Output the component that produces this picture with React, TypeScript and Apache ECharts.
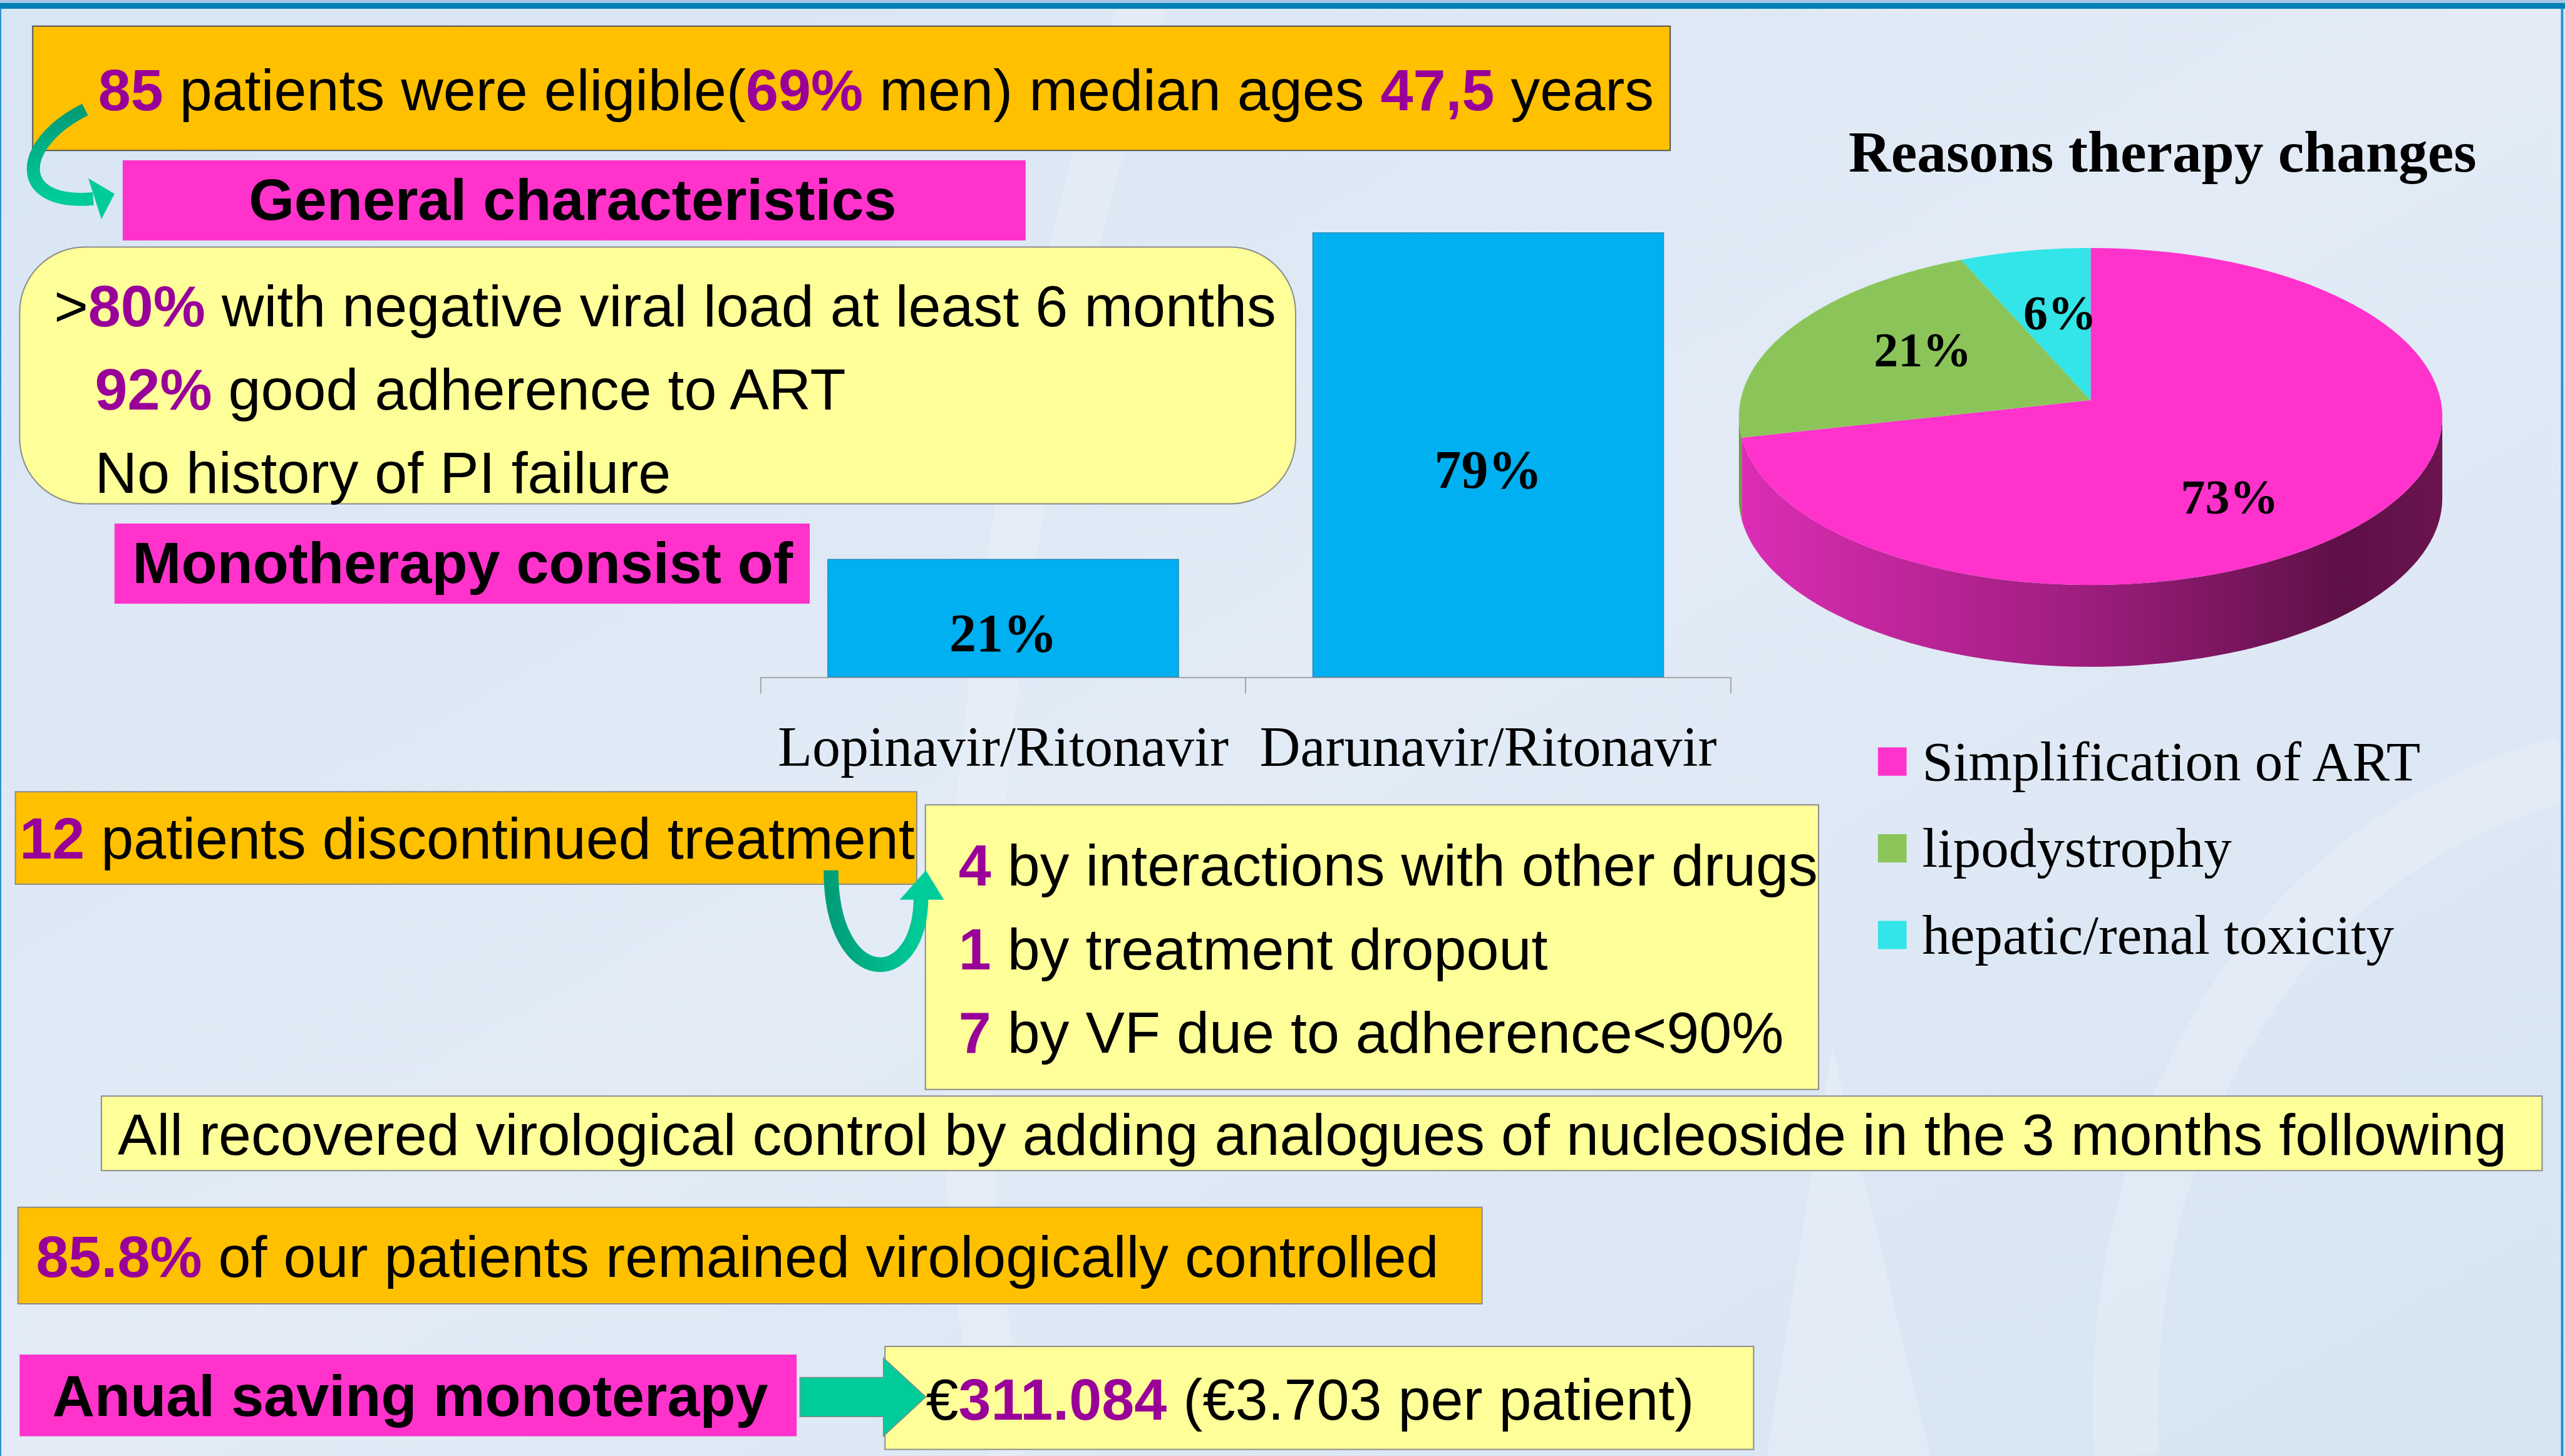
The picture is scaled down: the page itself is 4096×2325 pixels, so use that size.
import React, { useEffect, useRef } from 'react';
import * as echarts from 'echarts';

// ---------- data ----------
const drugCategories = ['Lopinavir/Ritonavir', 'Darunavir/Ritonavir'];
const drugShares = [21, 79];

const reasonNames = ['Simplification of ART', 'lipodystrophy', 'hepatic/renal toxicity'];
const reasonShares = [73, 21, 6];

const eligibleFacts = ['85', '69%', '47,5'];
const characteristicFacts = ['80%', '92%'];
const discontinuedCount = ['12'];
const discontinuedReasons = ['4', '1', '7'];
const controlledShare = ['85.8%'];
const savingFacts = ['311.084', '3.703'];

// ---------- styles ----------
const W = 4096;
const H = 2325;
const K = W / 1568;
const s = (v: number) => v * K;
const SANS = '"Liberation Sans", Arial, sans-serif';
const SERIF = '"Liberation Serif", "Times New Roman", serif';
const FS = 93.5;
const PURPLE = '#990099';
const ORANGE = '#FFC000';
const PINK = '#FF33CC';
const YELLOW = '#FFFF99';
const BLUE_BAR = '#00B0F0';
const reasonColors = ['#FF33CC', '#8BC55A', '#33E5E8'];
const reasonSideStops = [
  ['#DC2DB5', '#9C1D7C', '#5E1046', '#6A1450'],
  ['#6E9E40', '#5A8534', '#4A6E2A', '#527A2E'],
  ['#22B8BA', '#1C9A9C', '#157A7C', '#188486'],
];

const rich = {
  p: { fill: PURPLE, fontWeight: 'bold', fontSize: FS, fontFamily: SANS },
};

function txt(x: number, y: number, text: string, opts: any = {}) {
  const align = opts.align || 'left';
  return {
    type: 'text',
    x,
    y,
    z: opts.z ?? 10,
    style: {
      text,
      fill: opts.fill || '#000',
      fontSize: opts.fontSize || FS,
      fontFamily: opts.fontFamily || SANS,
      fontWeight: opts.fontWeight || 'normal',
      align,
      verticalAlign: 'middle',
      textAlign: align,
      textVerticalAlign: 'middle',
      rich,
    },
  };
}

function box(x: number, y: number, w: number, h: number, fill: string, stroke?: string, r = 0) {
  return {
    type: 'rect',
    z: 2,
    shape: { x: s(x), y: s(y), width: s(w), height: s(h), r: s(r) },
    style: { fill, stroke: stroke || 'none', lineWidth: stroke ? 2 : 0 },
  };
}

// ---------- 3D pie (custom series) ----------
const reasonTotal = reasonShares.reduce((a, b) => a + b, 0);
const reasonStarts: number[] = [];
{
  let acc = 0;
  for (const v of reasonShares) {
    reasonStarts.push((acc / reasonTotal) * 360);
    acc += v;
  }
}

function renderPie(params: any, api: any) {
  const i = params.dataIndex;
  const v = api.value(0);
  const frac = v / reasonTotal;
  const a1 = reasonStarts[i];
  const a2 = a1 + frac * 360;
  const cx = s(1278);
  const cy = s(254.6);
  const rx = s(215);
  const ry = s(103);
  const depth = s(50);
  const apexY = cy - s(10);
  const pt = (deg: number, dy = 0) => {
    const r = (deg * Math.PI) / 180;
    return [cx + rx * Math.sin(r), cy - ry * Math.cos(r) + dy];
  };
  const children: any[] = [];
  const vs = Math.max(a1, 90);
  const ve = Math.min(a2, 270);
  if (ve > vs) {
    const top: number[][] = [];
    const bot: number[][] = [];
    const n = 80;
    for (let k = 0; k <= n; k++) {
      const d = vs + ((ve - vs) * k) / n;
      top.push(pt(d));
      bot.push(pt(d, depth));
    }
    const st = reasonSideStops[i];
    children.push({
      type: 'polygon',
      shape: { points: top.concat(bot.reverse()) },
      style: {
        fill: new echarts.graphic.LinearGradient(
          cx - rx, 0, cx + rx, 0,
          [
            { offset: 0, color: st[0] },
            { offset: 0.5, color: st[1] },
            { offset: 0.86, color: st[2] },
            { offset: 1, color: st[3] },
          ],
          true
        ),
      },
    });
  }
  const pts: number[][] = [[cx, apexY]];
  const n = 120;
  for (let k = 0; k <= n; k++) pts.push(pt(a1 + ((a2 - a1) * k) / n));
  children.push({
    type: 'polygon',
    z2: 5,
    shape: { points: pts },
    style: { fill: reasonColors[i] },
  });
  const shift = 9 * Math.min(1, frac / 0.2);
  const mid = ((a1 + a2) / 2 + shift) * (Math.PI / 180);
  const lr = 0.62;
  children.push({
    type: 'text',
    z2: 10,
    x: cx + rx * lr * Math.sin(mid),
    y: cy - ry * lr * Math.cos(mid),
    style: {
      text: v + '%',
      fill: '#000',
      fontSize: 78,
      fontFamily: SERIF,
      fontWeight: 'bold',
      align: 'center',
      verticalAlign: 'middle',
      textAlign: 'center',
      textVerticalAlign: 'middle',
    },
  });
  return { type: 'group', children };
}

export default function App() {
  const ref = useRef<HTMLDivElement>(null);
  useEffect(() => {
    if (!ref.current) return;
    const chart = echarts.init(ref.current, undefined, { renderer: 'svg', width: W, height: H });

    const legendRows = [465.5, 518.5, 571.5];
    const legendEls: any[] = [];
    reasonNames.forEach((name, i) => {
      legendEls.push({
        type: 'rect',
        z: 3,
        shape: { x: s(1148), y: s(legendRows[i] - 8.6), width: s(17.5), height: s(17.3) },
        style: { fill: reasonColors[i] },
      });
      legendEls.push(txt(s(1175), s(legendRows[i]), name, { fontFamily: SERIF, fontSize: 89 }));
    });

    const graphic: any[] = [
      // background
      {
        type: 'rect',
        z: -100,
        shape: { x: 0, y: 0, width: W, height: H },
        style: {
          fill: new echarts.graphic.LinearGradient(0, 0, 1, 1, [
            { offset: 0, color: '#D8E5F3' },
            { offset: 0.5, color: '#E2EBF6' },
            { offset: 1, color: '#D6E4F2' },
          ]),
        },
      },
      {
        type: 'polygon',
        z: -99,
        shape: { points: [[s(1080), s(890)], [s(1120), s(640)], [s(1180), s(890)]] },
        style: { fill: 'rgba(255,255,255,0.22)' },
      },
      {
        type: 'bezierCurve',
        z: -99,
        shape: { x1: s(1300), y1: s(890), cpx1: s(1290), cpy1: s(700), cpx2: s(1380), cpy2: s(520), x2: s(1568), y2: s(470) },
        style: { stroke: 'rgba(255,255,255,0.2)', lineWidth: s(40), fill: 'none' },
      },
      {
        type: 'bezierCurve',
        z: -99,
        shape: { x1: s(620), y1: s(890), cpx1: s(560), cpy1: s(700), cpx2: s(600), cpy2: s(300), x2: s(700), y2: s(0) },
        style: { stroke: 'rgba(255,255,255,0.18)', lineWidth: s(30), fill: 'none' },
      },
      // frame
      { type: 'rect', z: -50, shape: { x: 0, y: 0, width: W, height: s(1.8) }, style: { fill: '#A9C7E6' } },
      { type: 'rect', z: -50, shape: { x: 0, y: s(1.8), width: W, height: s(3.6) }, style: { fill: '#0080B4' } },
      { type: 'rect', z: -50, shape: { x: 0, y: s(5), width: 2, height: H }, style: { fill: '#2A8FD0' } },
      { type: 'rect', z: -50, shape: { x: s(1565.5), y: s(5), width: 4, height: H }, style: { fill: '#2A8FD0' } },

      // top orange box
      box(20, 16, 1001, 76, ORANGE, '#555555'),
      txt(s(60), s(55), `{p|${eligibleFacts[0]}} patients were eligible({p|${eligibleFacts[1]}} men) median ages {p|${eligibleFacts[2]}} years`),

      // curved arrow 1
      {
        type: 'bezierCurve',
        z: 6,
        shape: { x1: s(52), y1: s(67), cpx1: s(10), cpy1: s(88), cpx2: s(8), cpy2: s(126), x2: s(57), y2: s(121.5) },
        style: {
          fill: 'none',
          lineWidth: s(8),
          stroke: new echarts.graphic.LinearGradient(0, 0, 0, 1, [
            { offset: 0, color: '#009B77' },
            { offset: 1, color: '#00CC99' },
          ]),
        },
      },
      {
        type: 'polygon',
        z: 6,
        shape: { points: [[s(54), s(109)], [s(70), s(118.5)], [s(62), s(134)]] },
        style: { fill: '#00CC99' },
      },

      // General characteristics
      box(75, 98, 552, 49, PINK),
      txt(s(350), s(122), 'General characteristics', { fontWeight: 'bold', align: 'center' }),

      // rounded yellow box
      box(12, 151, 780, 157, YELLOW, '#8C8C8C', 40),
      txt(s(33), s(187), `>{p|${characteristicFacts[0]}} with negative viral load at least 6 months`),
      txt(s(58), s(238), `{p|${characteristicFacts[1]}} good adherence to ART`),
      txt(s(58), s(289), 'No history of PI failure'),

      // Monotherapy
      box(70, 320, 425, 49, PINK),
      txt(s(81), s(344), 'Monotherapy consist of', { fontWeight: 'bold' }),

      // pie title
      txt(s(1322), s(93), 'Reasons therapy changes', { fontFamily: SERIF, fontWeight: 'bold', align: 'center' }),

      ...legendEls,

      // discontinued
      box(9.4, 484, 551, 56.5, ORANGE, '#8C8C8C'),
      txt(s(12), s(512.5), `{p|${discontinuedCount[0]}} patients discontinued treatment`),
      box(565.7, 492, 546, 174, YELLOW, '#8C8C8C'),
      txt(s(586), s(529), `{p|${discontinuedReasons[0]}} by interactions with other drugs`),
      txt(s(586), s(580), `{p|${discontinuedReasons[1]}} by treatment dropout`),
      txt(s(586), s(631), `{p|${discontinuedReasons[2]}} by VF due to adherence<90%`),

      // U arrow
      {
        type: 'bezierCurve',
        z: 6,
        shape: { x1: s(508), y1: s(532), cpx1: s(508), cpy1: s(606), cpx2: s(563), cpy2: s(606), x2: s(563), y2: s(548) },
        style: {
          fill: 'none',
          lineWidth: s(9),
          stroke: new echarts.graphic.LinearGradient(0, 0, 1, 0, [
            { offset: 0, color: '#009E78' },
            { offset: 1, color: '#00CC99' },
          ]),
        },
      },
      {
        type: 'polygon',
        z: 6,
        shape: { points: [[s(566), s(532)], [s(550), s(550)], [s(577), s(550)]] },
        style: { fill: '#00CC99' },
      },

      // recovered
      box(62, 670, 1492, 45.6, YELLOW, '#8C8C8C'),
      txt(s(72), s(693.5), 'All recovered virological control by adding analogues of nucleoside in the 3 months following'),

      // controlled
      box(11, 738, 895, 59, ORANGE, '#8C8C8C'),
      txt(s(22), s(768), `{p|${controlledShare[0]}} of our patients remained virologically controlled`),

      // saving
      box(12, 828, 475, 50, PINK),
      txt(s(32), s(853), 'Anual saving monoterapy', { fontWeight: 'bold' }),
      box(541, 823, 531, 63, YELLOW, '#8C8C8C'),
      txt(s(566), s(855.5), `€{p|${savingFacts[0]}} (€${savingFacts[1]} per patient)`),
      {
        type: 'polygon',
        z: 6,
        shape: {
          points: [
            [s(489), s(842)], [s(540), s(842)], [s(540), s(830)], [s(566), s(854)],
            [s(540), s(878)], [s(540), s(866)], [s(489), s(866)],
          ],
        },
        style: { fill: '#00CC99', stroke: '#8A8A8A', lineWidth: 1.5 },
      },
    ];

    const option: any = {
      animation: false,
      backgroundColor: '#DDE8F4',
      grid: { left: s(465), top: s(142), width: s(593), height: s(272), containLabel: false },
      xAxis: {
        type: 'category',
        data: drugCategories,
        axisLine: { lineStyle: { color: '#A6A6A6', width: 2 } },
        axisTick: { show: true, length: s(10), lineStyle: { color: '#A6A6A6', width: 2 } },
        axisLabel: {
          interval: 0,
          hideOverlap: false,
          color: '#000',
          fontFamily: SERIF,
          fontSize: 90,
          margin: s(42.5),
          verticalAlign: 'middle',
        },
        splitLine: { show: false },
      },
      yAxis: { type: 'value', min: 0, max: Math.max(...drugShares), show: false },
      series: [
        {
          type: 'bar',
          data: drugShares,
          barWidth: s(215),
          itemStyle: { color: BLUE_BAR, borderColor: '#2A8CC0', borderWidth: 1.5 },
          label: {
            show: true,
            position: 'inside',
            formatter: '{c}%',
            color: '#000',
            fontFamily: SERIF,
            fontWeight: 'bold',
            fontSize: 86,
            offset: [0, s(9)],
          },
        },
        {
          type: 'custom',
          coordinateSystem: 'none',
          z: 3,
          data: reasonShares.map((v, i) => ({ name: reasonNames[i], value: [v] })),
          renderItem: renderPie,
        },
      ],
      graphic,
    };
    chart.setOption(option);
    return () => chart.dispose();
  }, []);
  return <div ref={ref} style={{ position: 'fixed', left: 0, top: 0, width: W, height: H }} />;
}
